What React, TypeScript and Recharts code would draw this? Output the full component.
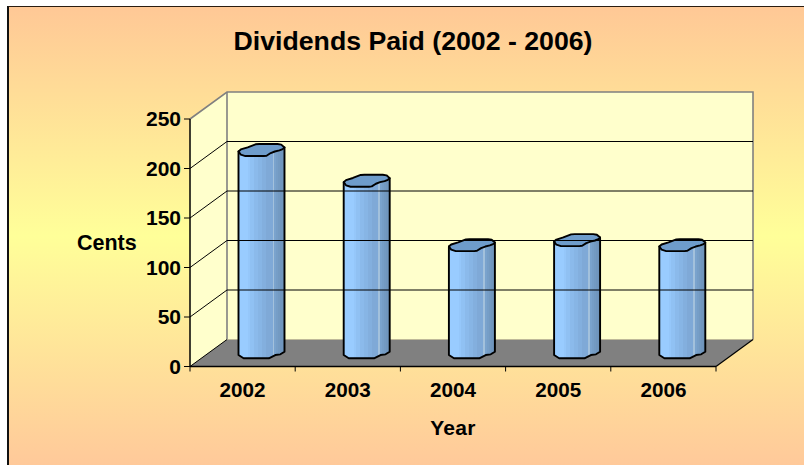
import React from "react";
import { BarChart, Bar, XAxis, YAxis, ReferenceArea, ReferenceLine } from "recharts";

const years = ["2002", "2003", "2004", "2005", "2006"];
const cents = [205, 174, 109, 114, 109];
const yTicks = [0, 50, 100, 150, 200, 250];
const gridValues = [50, 100, 150, 200];
const stripes = [
  "#99CCFF", "#99CCFF", "#99CCFF", "#99CCFF", "#99CCFF", "#95C7FA", "#90C1F3", "#90C1F3", "#8BBAEB", "#8BBAEB", "#87B5E5", "#87B5E5",
  "#83AFDE", "#83AFDE", "#7FA9D7", "#7FA9D7", "#7FA9D7", "#A3C1DC", "#7AA3CD", "#769EC7", "#739AC2", "#7096BE", "#6D93BA",
];
const title = "Dividends Paid (2002 - 2006)";

const data = years.map((year, i) => ({ year, cents: cents[i] }));

const W = 804;
const H = 465;
const XH = 68;
const M = { top: 119, right: 88, bottom: 30.5, left: 70 };
const DX = 37;
const DY = 27;
const FONT = "'Liberation Sans', Arial, sans-serif";
const GRAY = "#808080";

const Walls = (p: any) => {
  const { x, y, width: w, height: h } = p;
  return (
    <g>
      <polygon points={`${x},${y} ${x + DX},${y - DY} ${x + DX},${y + h - DY} ${x},${y + h}`} fill="#FFFFCC" />
      <rect x={x + DX} y={y - DY} width={w} height={h} fill="#FFFFCC" />
      <polygon points={`${x},${y + h} ${x + w},${y + h} ${x + w + DX},${y + h - DY} ${x + DX},${y + h - DY}`} fill={GRAY} />
      <path d={`M${x},${y} L${x + DX},${y - DY} H${x + w + DX} V${y + h - DY}`} fill="none" stroke={GRAY} strokeWidth={1.6} />
      <path d={`M${x + DX},${y - DY} V${y + h - DY}`} fill="none" stroke={GRAY} strokeWidth={1.6} />
      <path d={`M${x + w},${y + h} L${x + w + DX},${y + h - DY}`} fill="none" stroke="#000" strokeWidth={1.2} />
      <path d={`M${x},${y + h} L${x + DX},${y + h - DY}`} fill="none" stroke="#000" strokeWidth={1} />
    </g>
  );
};

const GridLine = (p: any) => {
  const { x1, x2, y1 } = p;
  return (
    <g>
      <line x1={x1} y1={y1} x2={x1 + DX} y2={y1 - DY} stroke="#000" strokeWidth={1} />
      <line x1={x1 + DX} y1={y1 - DY} x2={x2 + DX} y2={y1 - DY} stroke="#000" strokeWidth={1} />
    </g>
  );
};

const CAP: [number, number][] = [
  [0, 0.62], [0.05, 0.45], [0.2, 0.27], [0.37, 0.02], [0.45, 0], [0.85, 0], [0.93, 0.05], [1, 0.28], [0.96, 0.42], [0.89, 0.53],
  [0.79, 0.62], [0.7, 0.75], [0.61, 0.97], [0.55, 1], [0.15, 1], [0.05, 0.88], [0, 0.62],
];
const BASE: [number, number][] = [
  [1, -0.11], [0.91, 0.11], [0.8, 0.17], [0.66, 0.44], [0.11, 0.44], [0, 0.17],
];

const Cylinder = (p: any) => {
  const { x, y, width: w, height: h } = p;
  const cx = x + DX / 2;
  const top = y - DY / 2;
  const bottom = y + h - DY / 2;
  const capH = 12;
  const pts = (arr: [number, number][], oy: number) => arr.map(([a, b]) => `${cx + a * w},${oy + b * capH}`);
  const capTop = top - capH / 2;
  const body = `M${cx},${capTop + 0.62 * capH} L${cx + w},${capTop + 0.28 * capH} L${pts(BASE, bottom).join(" L")} Z`;
  const cap = `M${pts(CAP, capTop).join(" L")} Z`;
  return (
    <g>
      <path d={body} fill="url(#cyl)" stroke="#000" strokeWidth={1.9} strokeLinejoin="round" />
      <path d={cap} fill="#6E9CCB" stroke="#000" strokeWidth={1.9} strokeLinejoin="round" />
    </g>
  );
};

const plotW = W - M.left - 120 - M.right;
const step = plotW / years.length;
const plotBottom = H - M.bottom - XH;

const XTick = (p: any) => {
  const { x, payload, index } = p;
  return (
    <g>
      <line x1={x - step / 2} x2={x - step / 2} y1={plotBottom} y2={plotBottom + 5} stroke="#000" />
      {index === years.length - 1 && (
        <line x1={x + step / 2} x2={x + step / 2} y1={plotBottom} y2={plotBottom + 5} stroke="#000" />
      )}
      <text x={x} y={plotBottom + 30} textAnchor="middle" fontFamily={FONT} fontWeight={700} fontSize={20.7} fill="#000">
        {payload.value}
      </text>
    </g>
  );
};

export default function App() {
  return (
    <div
      style={{
        position: "absolute",
        left: 7,
        top: 6,
        width: W - 7,
        height: H - 6,
        boxSizing: "border-box",
        borderLeft: "2px solid #111",
        borderTop: "1px solid #2a1c10",
        background: "linear-gradient(180deg, #FFC896 0%, #FFFF99 50%, #FFC99A 100%)",
      }}
    >
      <div style={{ position: "absolute", left: -9, top: -7 }}>
        <BarChart width={W} height={H} data={data} margin={M} barSize={46}>
          <defs>
            <linearGradient id="cyl" x1="0" x2="1" y1="0" y2="0">
              {stripes.flatMap((c, i) => [
                <stop key={`a${i}`} offset={i / stripes.length} stopColor={c} />,
                <stop key={`b${i}`} offset={(i + 1) / stripes.length} stopColor={c} />,
              ])}
            </linearGradient>
          </defs>
          <text x={413} y={50} textAnchor="middle" fontFamily={FONT} fontWeight={700} fontSize={26.7} fill="#000">
            {title}
          </text>
          <ReferenceArea y1={0} y2={250} shape={<Walls />} ifOverflow="visible" />
          {gridValues.map((v) => (
            <ReferenceLine key={v} y={v} ifOverflow="visible" shape={<GridLine />} />
          ))}
          <XAxis
            dataKey="year"
            height={XH}
            tickLine={false}
            axisLine={{ stroke: "#000", strokeWidth: 1.5 }}
            tick={<XTick />}
            interval={0}
            label={{ value: "Year", position: "insideBottom", offset: 0, fontFamily: FONT, fontWeight: 700, fontSize: 21, fill: "#000", letterSpacing: 0.3 }}
          />
          <YAxis
            width={120}
            domain={[0, 250]}
            ticks={yTicks}
            tickSize={6}
            tickMargin={3}
            axisLine={{ stroke: "#000", strokeWidth: 1.5 }}
            tickLine={{ stroke: "#000" }}
            tick={{ fontFamily: FONT, fontWeight: 700, fontSize: 21, fill: "#000" }}
            label={{ value: "Cents", position: "insideLeft", angle: 0, offset: 7, fontFamily: FONT, fontWeight: 700, fontSize: 21.5, fill: "#000" }}
          />
          <Bar dataKey="cents" isAnimationActive={false} shape={<Cylinder />} />
        </BarChart>
      </div>
    </div>
  );
}
